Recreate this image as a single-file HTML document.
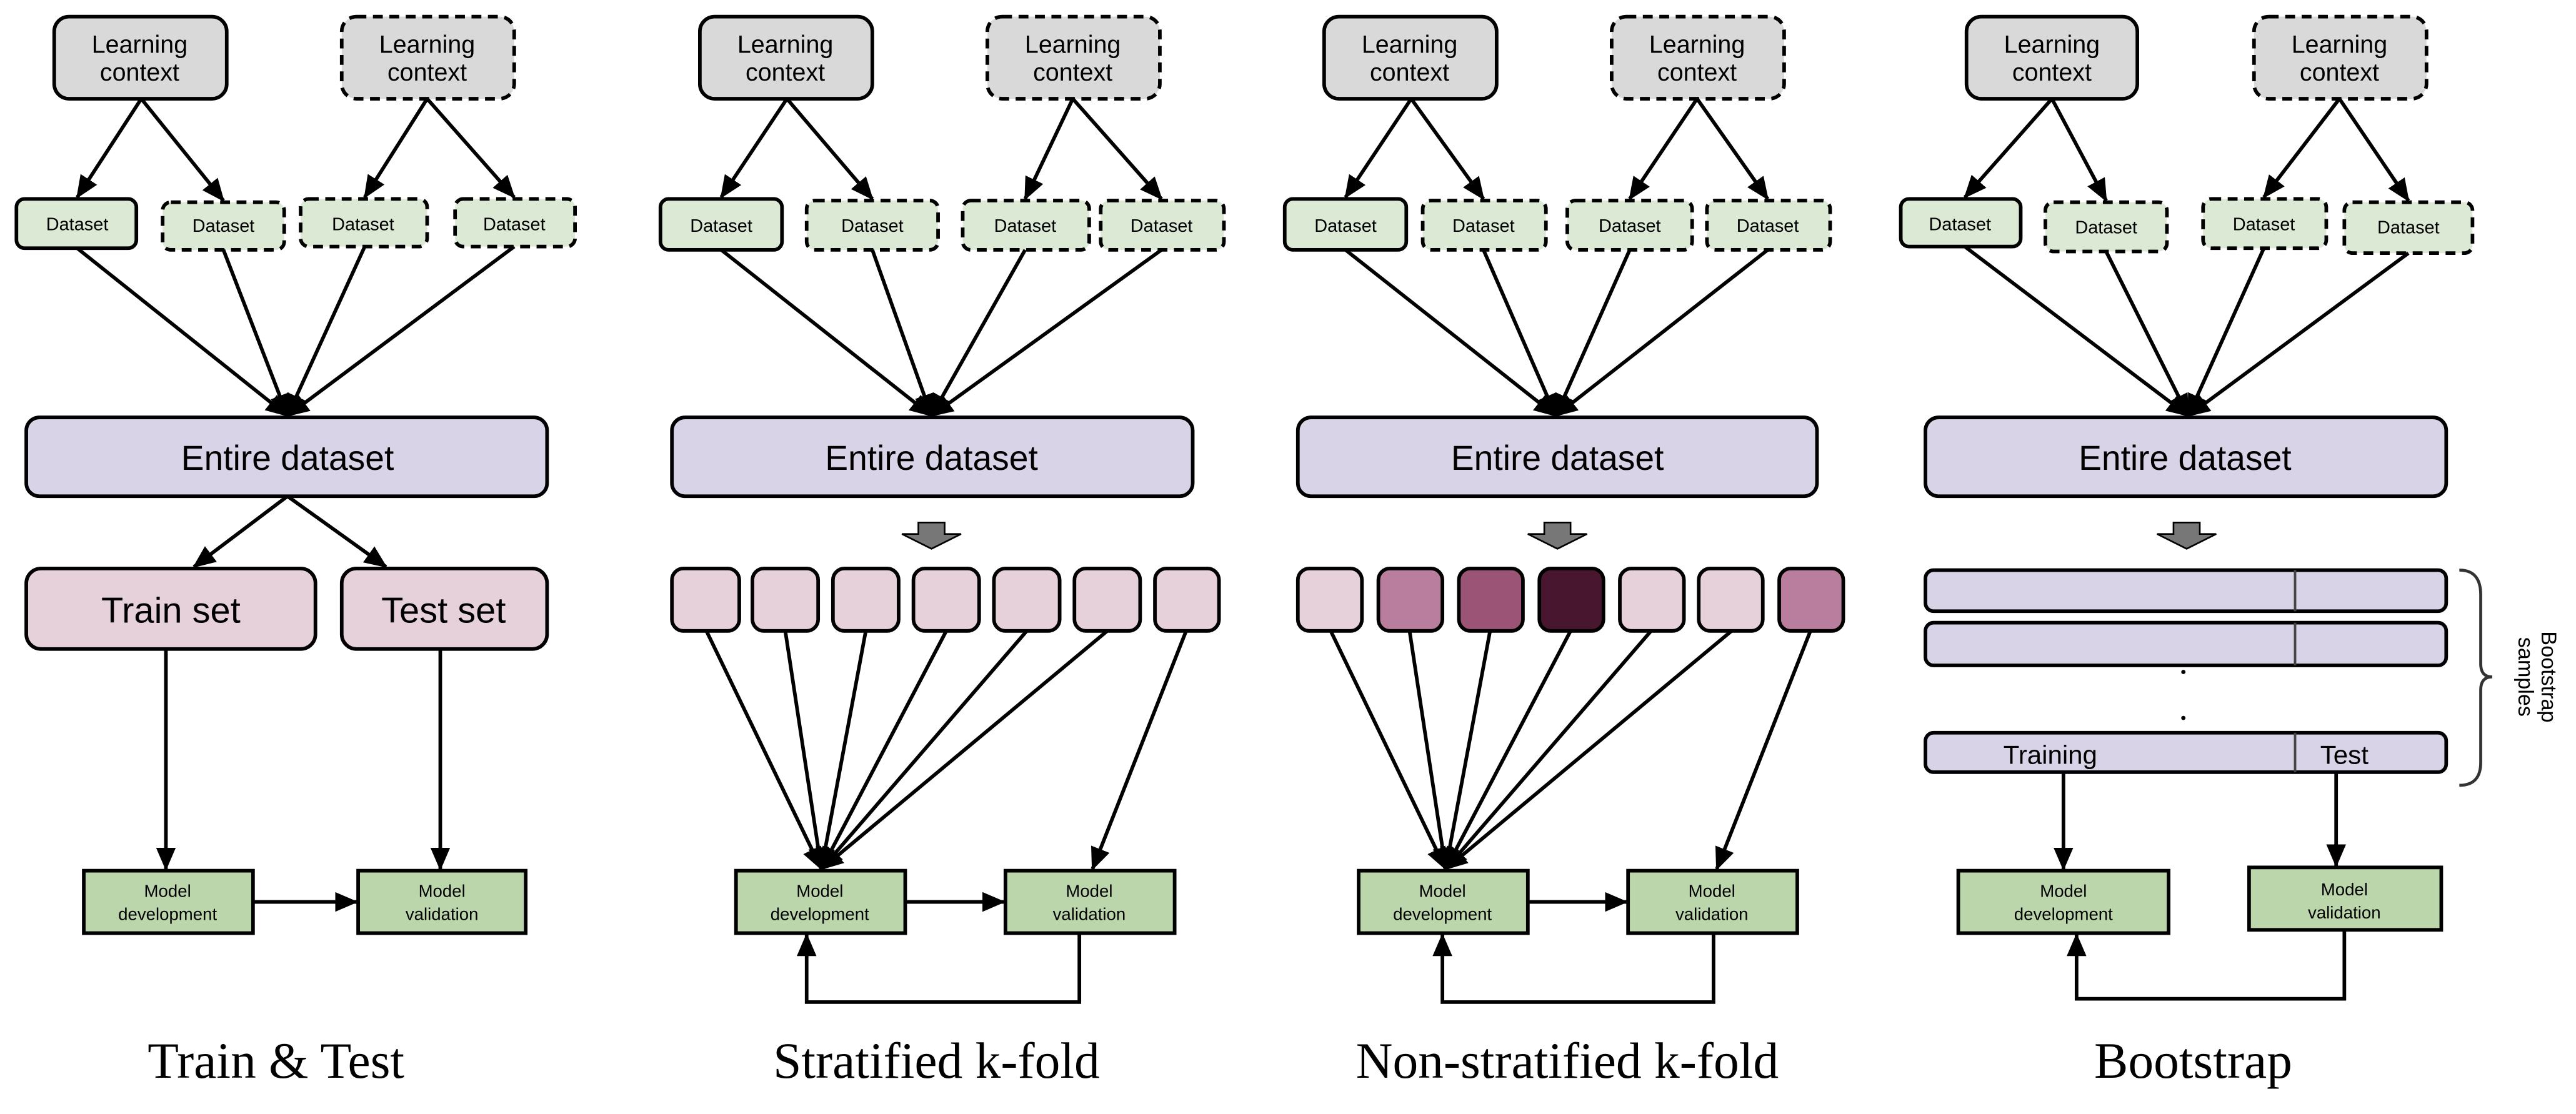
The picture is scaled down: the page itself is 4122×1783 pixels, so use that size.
<!DOCTYPE html>
<html><head><meta charset="utf-8"><style>
html,body{margin:0;padding:0;background:#fff;}
svg{display:block;}
text{font-family:"Liberation Sans",sans-serif;fill:#000;}
.t{font-family:"Liberation Serif",serif;font-size:31px;}
</style></head><body>
<svg width="4122" height="1783" viewBox="0 0 1568 678" xmlns="http://www.w3.org/2000/svg">
<defs>
<marker id="a" markerUnits="userSpaceOnUse" markerWidth="14" markerHeight="14" viewBox="0 0 14 14" refX="13" refY="7" orient="auto">
<path d="M0,1 L14,7 L0,13 z" fill="#000"/></marker>
</defs>
<g stroke="#000" stroke-width="2.2" fill="none">
<!-- Panel 1 -->
<rect x="33" y="10" width="105" height="50" rx="9" fill="#d9d9d9"/>
<rect x="208" y="10" width="105" height="50" rx="9" fill="#d9d9d9" stroke-dasharray="6,4"/>
<rect x="10" y="121" width="73" height="30" rx="5" fill="#dce9d5"/>
<rect x="99" y="123" width="74" height="29" rx="5" fill="#dce9d5" stroke-dasharray="6,4"/>
<rect x="183" y="121" width="77" height="29" rx="5" fill="#dce9d5" stroke-dasharray="6,4"/>
<rect x="277" y="121" width="73" height="29" rx="5" fill="#dce9d5" stroke-dasharray="6,4"/>
<line x1="86" y1="60" x2="47" y2="120" marker-end="url(#a)"/>
<line x1="86" y1="60" x2="136" y2="122" marker-end="url(#a)"/>
<line x1="260" y1="60" x2="222" y2="120" marker-end="url(#a)"/>
<line x1="260" y1="60" x2="313" y2="120" marker-end="url(#a)"/>
<line x1="47" y1="151" x2="175" y2="253" marker-end="url(#a)"/>
<line x1="136" y1="152" x2="175" y2="253" marker-end="url(#a)"/>
<line x1="222" y1="150" x2="175" y2="253" marker-end="url(#a)"/>
<line x1="313" y1="150" x2="175" y2="253" marker-end="url(#a)"/>
<rect x="16" y="254" width="317" height="48" rx="8" fill="#d8d3e7"/>
<line x1="175" y1="302" x2="118" y2="345" marker-end="url(#a)"/>
<line x1="175" y1="302" x2="235" y2="345" marker-end="url(#a)"/>
<rect x="16" y="346" width="176" height="49" rx="9" fill="#e6d1da"/>
<rect x="208" y="346" width="125" height="49" rx="9" fill="#e6d1da"/>
<line x1="101" y1="395" x2="101" y2="529" marker-end="url(#a)"/>
<line x1="268" y1="395" x2="268" y2="529" marker-end="url(#a)"/>
<rect x="51" y="530" width="103" height="38" fill="#bcd6ac"/>
<rect x="218" y="530" width="102" height="38" fill="#bcd6ac"/>
<line x1="154" y1="549" x2="217" y2="549" marker-end="url(#a)"/>

<!-- Panel 2 -->
<rect x="426" y="10" width="105" height="50" rx="9" fill="#d9d9d9"/>
<rect x="601" y="10" width="105" height="50" rx="9" fill="#d9d9d9" stroke-dasharray="6,4"/>
<rect x="402" y="121" width="74" height="31" rx="5" fill="#dce9d5"/>
<rect x="491" y="122" width="80" height="30" rx="5" fill="#dce9d5" stroke-dasharray="6,4"/>
<rect x="586" y="122" width="77" height="30" rx="5" fill="#dce9d5" stroke-dasharray="6,4"/>
<rect x="670" y="122" width="75" height="30" rx="5" fill="#dce9d5" stroke-dasharray="6,4"/>
<line x1="479" y1="60" x2="439" y2="120" marker-end="url(#a)"/>
<line x1="479" y1="60" x2="531" y2="121" marker-end="url(#a)"/>
<line x1="653" y1="60" x2="624" y2="121" marker-end="url(#a)"/>
<line x1="653" y1="60" x2="707" y2="121" marker-end="url(#a)"/>
<line x1="439" y1="152" x2="567" y2="253" marker-end="url(#a)"/>
<line x1="531" y1="152" x2="567" y2="253" marker-end="url(#a)"/>
<line x1="624" y1="152" x2="567" y2="253" marker-end="url(#a)"/>
<line x1="707" y1="152" x2="567" y2="253" marker-end="url(#a)"/>
<rect x="409" y="254" width="317" height="48" rx="8" fill="#d8d3e7"/>
<rect x="409" y="346" width="41" height="38" rx="7" fill="#e6d1da"/>
<rect x="458" y="346" width="40" height="38" rx="7" fill="#e6d1da"/>
<rect x="507" y="346" width="40" height="38" rx="7" fill="#e6d1da"/>
<rect x="556" y="346" width="40" height="38" rx="7" fill="#e6d1da"/>
<rect x="605" y="346" width="40" height="38" rx="7" fill="#e6d1da"/>
<rect x="654" y="346" width="40" height="38" rx="7" fill="#e6d1da"/>
<rect x="703" y="346" width="39" height="38" rx="7" fill="#e6d1da"/>
<line x1="430" y1="384" x2="500" y2="529" marker-end="url(#a)"/>
<line x1="478" y1="384" x2="500" y2="529" marker-end="url(#a)"/>
<line x1="527" y1="384" x2="500" y2="529" marker-end="url(#a)"/>
<line x1="576" y1="384" x2="500" y2="529" marker-end="url(#a)"/>
<line x1="625" y1="384" x2="500" y2="529" marker-end="url(#a)"/>
<line x1="674" y1="384" x2="500" y2="529" marker-end="url(#a)"/>
<line x1="722" y1="384" x2="665" y2="529" marker-end="url(#a)"/>
<rect x="448" y="530" width="103" height="38" fill="#bcd6ac"/>
<rect x="612" y="530" width="103" height="38" fill="#bcd6ac"/>
<line x1="551" y1="549" x2="611" y2="549" marker-end="url(#a)"/>
<polyline points="657,568 657,610 491,610 491,569" marker-end="url(#a)"/>

<!-- Panel 3 -->
<rect x="806" y="10" width="105" height="50" rx="9" fill="#d9d9d9"/>
<rect x="981" y="10" width="105" height="50" rx="9" fill="#d9d9d9" stroke-dasharray="6,4"/>
<rect x="782" y="121" width="74" height="31" rx="5" fill="#dce9d5"/>
<rect x="866" y="122" width="75" height="30" rx="5" fill="#dce9d5" stroke-dasharray="6,4"/>
<rect x="954" y="122" width="76" height="30" rx="5" fill="#dce9d5" stroke-dasharray="6,4"/>
<rect x="1039" y="122" width="75" height="30" rx="5" fill="#dce9d5" stroke-dasharray="6,4"/>
<line x1="859" y1="60" x2="819" y2="120" marker-end="url(#a)"/>
<line x1="859" y1="60" x2="903" y2="121" marker-end="url(#a)"/>
<line x1="1033" y1="60" x2="992" y2="121" marker-end="url(#a)"/>
<line x1="1033" y1="60" x2="1076" y2="121" marker-end="url(#a)"/>
<line x1="819" y1="152" x2="947" y2="253" marker-end="url(#a)"/>
<line x1="903" y1="152" x2="947" y2="253" marker-end="url(#a)"/>
<line x1="992" y1="152" x2="947" y2="253" marker-end="url(#a)"/>
<line x1="1076" y1="152" x2="947" y2="253" marker-end="url(#a)"/>
<rect x="790" y="254" width="316" height="48" rx="8" fill="#d8d3e7"/>
<rect x="790" y="346" width="39" height="38" rx="7" fill="#e6d1da"/>
<rect x="839" y="346" width="39" height="38" rx="7" fill="#b97e9e"/>
<rect x="888" y="346" width="39" height="38" rx="7" fill="#9c5476"/>
<rect x="937" y="346" width="39" height="38" rx="7" fill="#48162e"/>
<rect x="986" y="346" width="39" height="38" rx="7" fill="#e6d1da"/>
<rect x="1034" y="346" width="39" height="38" rx="7" fill="#e6d1da"/>
<rect x="1083" y="346" width="39" height="38" rx="7" fill="#b97e9e"/>
<line x1="810" y1="384" x2="880" y2="529" marker-end="url(#a)"/>
<line x1="858" y1="384" x2="880" y2="529" marker-end="url(#a)"/>
<line x1="907" y1="384" x2="880" y2="529" marker-end="url(#a)"/>
<line x1="956" y1="384" x2="880" y2="529" marker-end="url(#a)"/>
<line x1="1005" y1="384" x2="880" y2="529" marker-end="url(#a)"/>
<line x1="1054" y1="384" x2="880" y2="529" marker-end="url(#a)"/>
<line x1="1102" y1="384" x2="1045" y2="529" marker-end="url(#a)"/>
<rect x="827" y="530" width="103" height="38" fill="#bcd6ac"/>
<rect x="991" y="530" width="103" height="38" fill="#bcd6ac"/>
<line x1="930" y1="549" x2="990" y2="549" marker-end="url(#a)"/>
<polyline points="1043,568 1043,610 878,610 878,569" marker-end="url(#a)"/>

<!-- Panel 4 -->
<rect x="1197" y="10" width="104" height="50" rx="9" fill="#d9d9d9"/>
<rect x="1372" y="10" width="105" height="50" rx="9" fill="#d9d9d9" stroke-dasharray="6,4"/>
<rect x="1157" y="121" width="73" height="29" rx="5" fill="#dce9d5"/>
<rect x="1245" y="123" width="74" height="30" rx="5" fill="#dce9d5" stroke-dasharray="6,4"/>
<rect x="1341" y="121" width="75" height="30" rx="5" fill="#dce9d5" stroke-dasharray="6,4"/>
<rect x="1427" y="123" width="78" height="31" rx="5" fill="#dce9d5" stroke-dasharray="6,4"/>
<line x1="1249" y1="60" x2="1196" y2="120" marker-end="url(#a)"/>
<line x1="1249" y1="60" x2="1282" y2="122" marker-end="url(#a)"/>
<line x1="1424" y1="60" x2="1378" y2="120" marker-end="url(#a)"/>
<line x1="1424" y1="60" x2="1466" y2="122" marker-end="url(#a)"/>
<line x1="1196" y1="150" x2="1332" y2="253" marker-end="url(#a)"/>
<line x1="1282" y1="153" x2="1332" y2="253" marker-end="url(#a)"/>
<line x1="1378" y1="151" x2="1332" y2="253" marker-end="url(#a)"/>
<line x1="1466" y1="154" x2="1332" y2="253" marker-end="url(#a)"/>
<rect x="1172" y="254" width="317" height="48" rx="8" fill="#d8d3e7"/>
<rect x="1172" y="347" width="317" height="25" rx="5" fill="#d8d3e7"/>
<rect x="1172" y="379" width="317" height="26" rx="5" fill="#d8d3e7"/>
<rect x="1172" y="446" width="317" height="24" rx="5" fill="#d8d3e7"/>
<line x1="1397" y1="347" x2="1397" y2="372" stroke="#444" stroke-width="1.5"/>
<line x1="1397" y1="379" x2="1397" y2="405" stroke="#444" stroke-width="1.5"/>
<line x1="1397" y1="446" x2="1397" y2="470" stroke="#444" stroke-width="1.5"/>
<line x1="1256" y1="471" x2="1256" y2="529" marker-end="url(#a)"/>
<line x1="1422" y1="471" x2="1422" y2="527" marker-end="url(#a)"/>
<rect x="1192" y="530" width="128" height="38" fill="#bcd6ac"/>
<rect x="1369" y="528" width="117" height="38" fill="#bcd6ac"/>
<polyline points="1427,566 1427,608 1264,608 1264,569" marker-end="url(#a)"/>
<path d="M1497,347 Q1510,347 1510,362 L1510,404 Q1510,412 1517,412 Q1510,412 1510,420 L1510,464 Q1510,478 1497,478" stroke="#333" stroke-width="1.8"/>
</g>
<!-- gray block arrows -->
<g fill="#777" stroke="#000" stroke-width="1">
<path d="M559,318 H575 V325 H585 L567,334 L549,325 H559 Z"/>
<path d="M940,318 H956 V325 H966 L948,334 L930,325 H940 Z"/>
<path d="M1323,318 H1339 V325 H1349 L1331,334 L1313,325 H1323 Z"/>
</g>
<circle cx="1329" cy="409" r="1.3" fill="#000"/>
<circle cx="1329" cy="437" r="1.3" fill="#000"/>

<!-- texts -->
<g font-size="15" text-anchor="middle">
<text x="85" y="32">Learning</text><text x="85" y="49">context</text>
<text x="260" y="32">Learning</text><text x="260" y="49">context</text>
<text x="478" y="32">Learning</text><text x="478" y="49">context</text>
<text x="653" y="32">Learning</text><text x="653" y="49">context</text>
<text x="858" y="32">Learning</text><text x="858" y="49">context</text>
<text x="1033" y="32">Learning</text><text x="1033" y="49">context</text>
<text x="1249" y="32">Learning</text><text x="1249" y="49">context</text>
<text x="1424" y="32">Learning</text><text x="1424" y="49">context</text>
</g>
<g font-size="11" text-anchor="middle">
<text x="47" y="140">Dataset</text><text x="136" y="141">Dataset</text><text x="221" y="140">Dataset</text><text x="313" y="140">Dataset</text>
<text x="439" y="141">Dataset</text><text x="531" y="141">Dataset</text><text x="624" y="141">Dataset</text><text x="707" y="141">Dataset</text>
<text x="819" y="141">Dataset</text><text x="903" y="141">Dataset</text><text x="992" y="141">Dataset</text><text x="1076" y="141">Dataset</text>
<text x="1193" y="140">Dataset</text><text x="1282" y="142">Dataset</text><text x="1378" y="140">Dataset</text><text x="1466" y="142">Dataset</text>
</g>
<g font-size="21" text-anchor="middle">
<text x="175" y="286">Entire dataset</text>
<text x="567" y="286">Entire dataset</text>
<text x="948" y="286">Entire dataset</text>
<text x="1330" y="286">Entire dataset</text>
</g>
<g font-size="22" text-anchor="middle">
<text x="104" y="379">Train set</text>
<text x="270" y="379">Test set</text>
</g>
<g font-size="16" text-anchor="middle">
<text x="1248" y="465">Training</text>
<text x="1427" y="465">Test</text>
</g>
<g font-size="10.5" text-anchor="middle">
<text x="102" y="546">Model</text><text x="102" y="560">development</text>
<text x="269" y="546">Model</text><text x="269" y="560">validation</text>
<text x="499" y="546">Model</text><text x="499" y="560">development</text>
<text x="663" y="546">Model</text><text x="663" y="560">validation</text>
<text x="878" y="546">Model</text><text x="878" y="560">development</text>
<text x="1042" y="546">Model</text><text x="1042" y="560">validation</text>
<text x="1256" y="546">Model</text><text x="1256" y="560">development</text>
<text x="1427" y="545">Model</text><text x="1427" y="559">validation</text>
</g>
<text font-size="13" text-anchor="middle" transform="translate(1547,412) rotate(90)"><tspan x="0" y="0">Bootstrap</tspan><tspan x="0" y="14">samples</tspan></text>
<g text-anchor="middle">
<text class="t" x="168" y="656">Train &amp; Test</text>
<text class="t" x="570" y="656">Stratified k-fold</text>
<text class="t" x="954" y="656">Non-stratified k-fold</text>
<text class="t" x="1335" y="656">Bootstrap</text>
</g>
</svg>
</body></html>
